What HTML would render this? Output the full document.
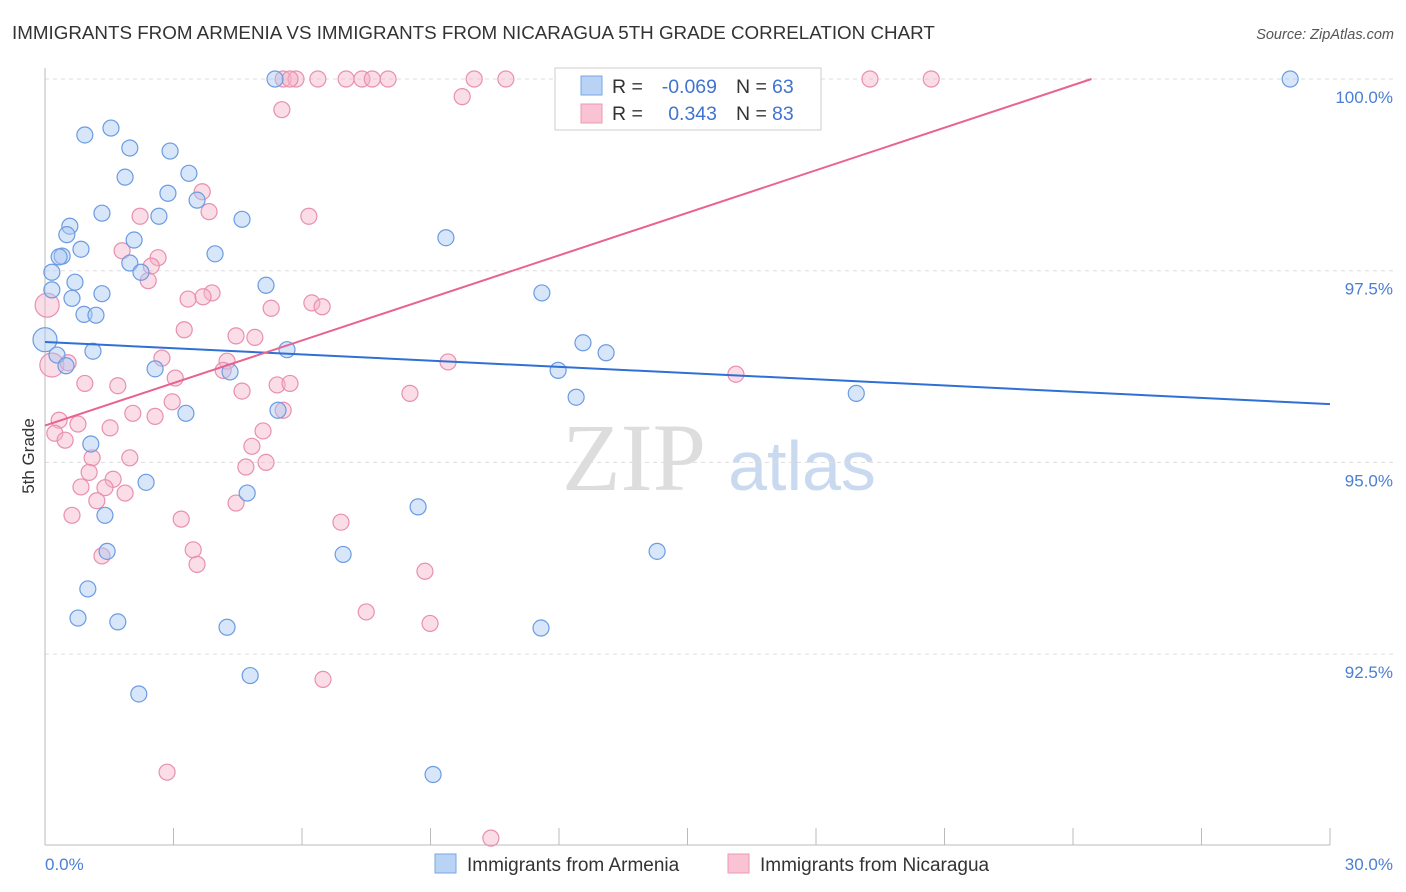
<!DOCTYPE html>
<html><head><meta charset="utf-8"><style>
body{margin:0;background:#fff;font-family:"Liberation Sans",sans-serif;}
#wrap{position:relative;width:1406px;height:892px;overflow:hidden;}
</style></head><body>
<div id="wrap">
<svg id="svg" width="1406" height="892">
<text x="12" y="39" font-size="18.8" fill="#333">IMMIGRANTS FROM ARMENIA VS IMMIGRANTS FROM NICARAGUA 5TH GRADE CORRELATION CHART</text>
<text x="1394" y="39" font-size="14.5" fill="#555" font-style="italic" text-anchor="end">Source: ZipAtlas.com</text>
<text x="634" y="490" font-size="96" fill="#ddd" font-family="Liberation Serif,serif" text-anchor="middle">ZIP</text>
<text x="802" y="490" font-size="70" fill="#c9d9f0" text-anchor="middle">atlas</text>
<text transform="translate(34,456) rotate(-90)" font-size="17" fill="#333" text-anchor="middle">5th Grade</text>
<g id="grid"></g><g id="pts"></g><g id="lines"></g>
<g>
<rect x="555" y="68" width="266" height="62" fill="#fff" stroke="#ccc"/>
<rect x="581" y="76" width="21" height="19" fill="#b9d3f5" stroke="#7aa6e5"/>
<rect x="581" y="104" width="21" height="19" fill="#f9c3d3" stroke="#ec9ab5"/>
<text x="612" y="93" font-size="19.5" fill="#333">R =</text>
<text x="717" y="93" font-size="19.5" fill="#3f74d0" text-anchor="end">-0.069</text>
<text x="736" y="93" font-size="19.5" fill="#333">N =</text>
<text x="772" y="93" font-size="19.5" fill="#3f74d0">63</text>
<text x="612" y="120" font-size="19.5" fill="#333">R =</text>
<text x="717" y="120" font-size="19.5" fill="#3f74d0" text-anchor="end">0.343</text>
<text x="736" y="120" font-size="19.5" fill="#333">N =</text>
<text x="772" y="120" font-size="19.5" fill="#3f74d0">83</text>
</g>
<g>
<rect x="435" y="854" width="21" height="19" fill="#b9d3f5" stroke="#7aa6e5"/>
<text x="467" y="871" font-size="19" fill="#333">Immigrants from Armenia</text>
<rect x="728" y="854" width="21" height="19" fill="#f9c3d3" stroke="#ec9ab5"/>
<text x="760" y="871" font-size="19" fill="#333">Immigrants from Nicaragua</text>
</g>
</svg></div>
<script>
const yTicks=[100,97.5,95,92.5];
const yTickLabels=["100.0%","97.5%","95.0%","92.5%"];
const xTickLabels=["0.0%","30.0%"];
const armX=[5.37,29.07,0.93,1.54,1.98,2.92,1.87,3.36,2.87,3.55,1.33,2.66,4.60,0.58,0.51,2.08,0.84,0.40,0.33,3.97,9.36,1.98,0.16,2.24,0.70,5.16,0.16,1.33,0.63,11.60,0.91,1.19,0,12.56,13.10,1.12,5.65,0.28,0.49,2.57,4.32,11.98,12.40,18.94,5.44,3.29,1.07,2.36,4.72,1.40,8.71,1.45,6.96,14.29,1.00,0.77,1.70,4.25,11.58,4.79,2.19,9.06];
const armY=[100,100,99.27,99.36,99.10,99.06,98.72,98.77,98.51,98.42,98.25,98.21,98.17,98.08,97.97,97.90,97.78,97.69,97.68,97.72,97.93,97.60,97.48,97.48,97.35,97.31,97.25,97.20,97.14,97.21,96.93,96.92,96.60,96.56,96.43,96.45,96.47,96.40,96.26,96.22,96.18,96.20,95.85,95.90,95.68,95.64,95.24,94.74,94.60,94.31,94.42,93.84,93.80,93.84,93.35,92.97,92.92,92.85,92.84,92.22,91.98,90.93];
const nicX=[5.56,5.86,5.72,6.37,7.03,7.40,7.64,8.01,10.02,10.76,19.26,20.69,5.53,9.74,3.67,2.22,3.83,6.16,1.80,2.64,2.48,2.41,3.90,3.34,3.69,5.28,6.23,6.47,0.05,3.25,4.46,4.90,0.16,0.54,2.73,4.25,9.41,16.13,3.04,4.16,0.93,1.70,5.42,5.72,4.60,8.52,2.97,2.05,2.57,5.56,0.33,0.77,1.52,5.09,0.23,0.47,4.83,1.10,1.98,5.16,4.69,1.03,1.59,0.84,1.40,1.87,1.21,4.46,0.63,3.18,6.91,3.46,1.33,3.55,8.87,7.50,8.99,6.49,2.85,10.41];
const nicY=[100,100,100,100,100,100,100,100,100,100,100,100,99.60,99.77,98.53,98.21,98.27,98.21,97.76,97.67,97.56,97.37,97.21,97.13,97.16,97.01,97.08,97.03,97.05,96.73,96.65,96.63,96.27,96.30,96.36,96.32,96.31,96.15,96.10,96.20,96.03,96.00,96.01,96.03,95.93,95.90,95.79,95.64,95.60,95.68,95.55,95.50,95.45,95.41,95.38,95.29,95.21,95.06,95.06,95.00,94.94,94.87,94.78,94.68,94.67,94.60,94.50,94.47,94.31,94.26,94.22,93.86,93.78,93.67,93.58,93.05,92.90,92.17,90.96,90.10];
const armTrend=[96.57,-0.027];
const nicTrend=[95.48,0.185];
const NS="http://www.w3.org/2000/svg";
const X=v=>45+v/30*1285, Y=v=>79+(100-v)/2.5*191.7;
function mk(t,a,p){const e=document.createElementNS(NS,t);for(const k in a)e.setAttribute(k,a[k]);p.appendChild(e);return e;}
const grid=document.getElementById('grid');
yTicks.forEach((t,i)=>{
 const l=mk('line',{x1:45,x2:1393,y1:Y(t),y2:Y(t),stroke:'#ddd','stroke-dasharray':'4,4'},grid);
 
 
 const tx=mk('text',{x:1393,y:Y(t)+24,'font-size':17,fill:'#4a7fd4','text-anchor':'end'},grid);
 tx.textContent=yTickLabels[i];
 
 
});
const ax=mk('line',{x1:45,x2:1330,y1:845,y2:845,stroke:'#bbb'},grid);


const ay=mk('line',{x1:45,x2:45,y1:68,y2:845,stroke:'#bbb'},grid);


for(let i=0;i<=10;i++){const t=mk('line',{x1:X(i*3),x2:X(i*3),y1:828,y2:845,stroke:'#bbb'},grid);
 
 }
[[0,45,'start'],[1,1393,'end']].forEach(([i,x,a])=>{const t=mk('text',{x:x,y:870,'font-size':17,fill:'#4a7fd4','text-anchor':a},grid);t.textContent=xTickLabels[i];
 
 });
const pts=document.getElementById('pts');
function dots(xs,ys,fill,stroke,name,bigIdx){xs.forEach((x,i)=>{const r=bigIdx.includes(i)?12:8;
 const c=mk('circle',{cx:X(x),cy:Y(ys[i]),r:r,fill:fill,'fill-opacity':0.45,stroke:stroke,'stroke-width':1.2},pts);
 
 });}
dots(nicX,nicY,'#f5b3c8','#e98fb0','nicaragua-point',[28,32]);
dots(armX,armY,'#a9c8f2','#6b9be2','armenia-point',[32]);
const lines=document.getElementById('lines');
const bl=mk('line',{x1:X(0),y1:Y(armTrend[0]),x2:X(30),y2:Y(armTrend[0]+armTrend[1]*30),stroke:'#2f6fd6','stroke-width':2},lines);


const xe=(100-nicTrend[0])/nicTrend[1];
const pl=mk('line',{x1:X(0),y1:Y(nicTrend[0]),x2:X(xe),y2:Y(100),stroke:'#e8638f','stroke-width':2},lines);


</script>
</body></html>
